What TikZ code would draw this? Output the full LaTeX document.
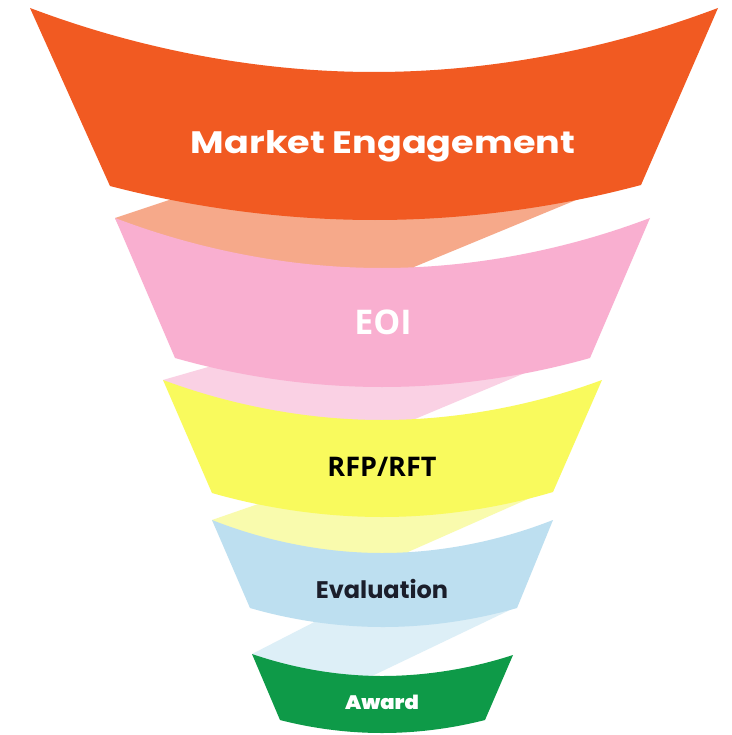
\documentclass[tikz,border=0pt]{standalone}
\usepackage{fontspec}
\newfontfamily\popfont{Poppins}
\IfFontExistsTF{Poppins ExtraBold}{\newfontfamily\popheavy{Poppins ExtraBold}}{\newfontfamily\popheavy{Poppins}[FakeBold=1.5]}
\newfontfamily\osfont{Open Sans}
\definecolor{cOrange}{HTML}{F15A22}
\definecolor{cSalmon}{HTML}{F6A98A}
\definecolor{cPink}{HTML}{F9AFD0}
\definecolor{cPalePink}{HTML}{FAD1E4}
\definecolor{cYellow}{HTML}{F9FA5D}
\definecolor{cPaleYellow}{HTML}{F9FBAD}
\definecolor{cBlue}{HTML}{BDDFF0}
\definecolor{cPaleBlue}{HTML}{DDEFF7}
\definecolor{cGreen}{HTML}{0E9A48}
\definecolor{cDark}{HTML}{1B1E2B}
\tikzset{
  band/.style={fill=#1, draw=none},
  label/.style={inner sep=0pt, anchor=center}
}
\begin{document}
\begin{tikzpicture}[x=1pt,y=-1pt]
\useasboundingbox (0,0) rectangle (731,735);
\fill[white] (0,0) rectangle (731,735);
% back pieces
\fill[cSalmon] (115,218) -- (205,188) -- (610,186) -- (414,267) -- (414,330) -- (170,330) -- cycle;
\fill[cPalePink] (163,380) -- (250,355) -- (556,360) -- (415,419) -- (415,470) -- (215,470) -- cycle;
\fill[cPaleYellow] (212,520) -- (290,493) -- (537,495) -- (408,552) -- (408,600) -- (250,600) -- cycle;
\fill[cPaleBlue] (252,654) -- (330,614) -- (505,604) -- (512,609) -- (372,676) -- (372,710) -- (285,710) -- cycle;
% bands
\path[band=cOrange] (30,8) parabola bend (374,72) (718,8) -- (641,185) parabola bend (375,220) (110,186) -- cycle;
\path[band=cPink] (115,218) parabola bend (382,268) (650,218) -- (590,358) parabola bend (382,387) (175,358) -- cycle;
\path[band=cYellow] (163,380) parabola bend (382,420) (602,380) -- (553,492) parabola bend (382,517) (212,493) -- cycle;
\path[band=cBlue] (212,520) parabola bend (382,553) (553,520) -- (517,608) parabola bend (383,627) (250,608) -- cycle;
\path[band=cGreen] (252,654) parabola bend (382,676) (513,655) -- (485,720) parabola bend (382,733) (280,720) -- cycle;
% labels
\node[label, text=white] (me) at (383,146) {\scalebox{1.18}[1]{\popfont\bfseries\fontsize{31}{36}\selectfont Market Engagement}};
\node[label, text=white] (eoi) at (383,322) {\osfont\bfseries\fontsize{34}{40}\selectfont EOI};
\node[label, text=black] (rfp) at (382,467) {\osfont\bfseries\fontsize{27}{32}\selectfont RFP/RFT};
\node[label, text=cDark] (eval) at (382,589) {\popfont\bfseries\fontsize{24}{28}\selectfont Evaluation};
\node[label, text=white] (award) at (382,702) {\scalebox{1.08}[1]{\popheavy\bfseries\fontsize{19.5}{22}\selectfont Award}};
\end{tikzpicture}
\end{document}
